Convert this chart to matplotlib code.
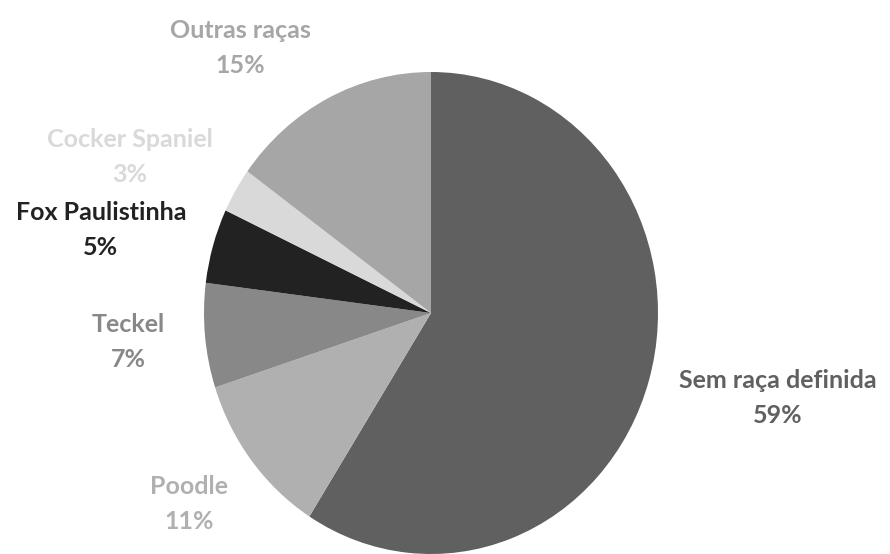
import matplotlib
matplotlib.use('Agg')
import matplotlib.pyplot as plt

labels = ['Sem raça definida', 'Poodle', 'Teckel', 'Fox Paulistinha', 'Cocker Spaniel', 'Outras raças']
values = [59, 11, 7, 5, 3, 15]
colors = ['#606060', '#b0b0b0', '#888888', '#222222', '#d9d9d9', '#a6a6a6']

# label anchor points in pie coordinates (radius 1)
label_pos = [(1.529, -0.353), (-1.066, -0.793), (-1.335, -0.120),
             (-1.454, 0.344), (-1.326, 0.647), (-0.841, 1.100)]

plt.rcParams['font.family'] = ['Lato', 'DejaVu Sans']

fig = plt.figure(figsize=(8.9, 5.54), dpi=100)
ax = fig.add_axes([0, 0, 1, 1])

ax.pie(values, colors=colors, startangle=90, counterclock=False,
       wedgeprops=dict(linewidth=0))
ax.set_aspect('auto')
ax.set_xlim(-431 / 227, 459 / 227)
ax.set_ylim(-241 / 241, 313 / 241)
ax.axis('off')

for lab, v, c, (x, y) in zip(labels, values, colors, label_pos):
    ax.text(x, y, f"{lab}\n{v}%", ha='center', va='center', color=c,
            fontsize=18, fontweight='bold', linespacing=1.65)

plt.savefig('out.png')
plt.close()
